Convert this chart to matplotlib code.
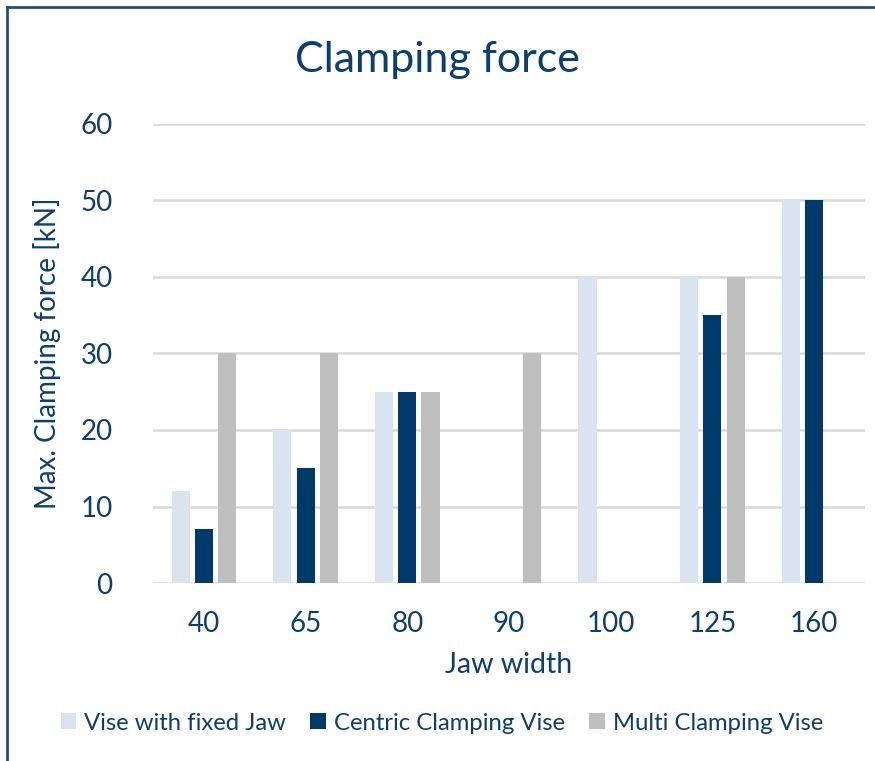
import numpy as np
import matplotlib.pyplot as plt
from matplotlib.lines import Line2D

# chart data
jaw_widths = ["40", "65", "80", "90", "100", "125", "160"]
fixed_jaw = [12, 20, 25, 0, 40, 40, 50]
centric = [7, 15, 25, 0, 0, 35, 50]
multi = [30, 30, 25, 30, 0, 40, 0]
series_names = ["Vise with fixed Jaw", "Centric Clamping Vise", "Multi Clamping Vise"]
y_ticks = [0, 10, 20, 30, 40, 50, 60]

TEXT = "#0D3E6E"
colors = ["#DAE3F0", "#003A6A", "#BFBFBF"]

plt.rcParams["font.family"] = ["Lato", "DejaVu Sans"]

fig = plt.figure(figsize=(8.75, 7.61), dpi=100)
ax = fig.add_axes([153 / 875, 1 - 583 / 761, 712 / 875, 459 / 761])

x = np.arange(len(jaw_widths))
w = 0.178
step = 0.228
for i, (vals, name) in enumerate(zip([fixed_jaw, centric, multi], series_names)):
    ax.bar(x + (i - 1) * step, vals, width=w, color=colors[i], label=name, zorder=3)

ax.set_xlim(-0.5, len(jaw_widths) - 0.5)
ax.set_ylim(0, 60)
ax.set_yticks(y_ticks)
ax.set_xticks(x)
ax.set_xticklabels(jaw_widths)
ax.yaxis.grid(True, color="#D9D9D9", linewidth=1.8, zorder=0)
ax.tick_params(axis="both", length=0, labelsize=20, colors=TEXT)
ax.tick_params(axis="x", pad=20)
ax.tick_params(axis="y", pad=29)
for s in ax.spines.values():
    s.set_visible(False)

ax.set_xlabel("Jaw width", fontsize=20.5, color=TEXT, labelpad=11)
ax.set_ylabel("Max. Clamping force [kN]", fontsize=20, color=TEXT, labelpad=14)

fig.text(0.5, 1 - 60 / 761, "Clamping force", ha="center", va="center",
         fontsize=31, color=TEXT)

fig.legend(loc="center", bbox_to_anchor=(0.505, 1 - 723 / 761), ncol=3,
           frameon=False, fontsize=17.2, handlelength=0.65, handleheight=0.65,
           handletextpad=0.35, columnspacing=1.0, labelcolor=TEXT)

# frame of the chart box (left and top edges visible)
fig.add_artist(Line2D([7 / 875, 7 / 875], [0, 1 - 7 / 761], color="#1F4E79", lw=2))
fig.add_artist(Line2D([7 / 875, 1], [1 - 7 / 761, 1 - 7 / 761], color="#1F4E79", lw=2))

fig.savefig("out.png", dpi=100)
